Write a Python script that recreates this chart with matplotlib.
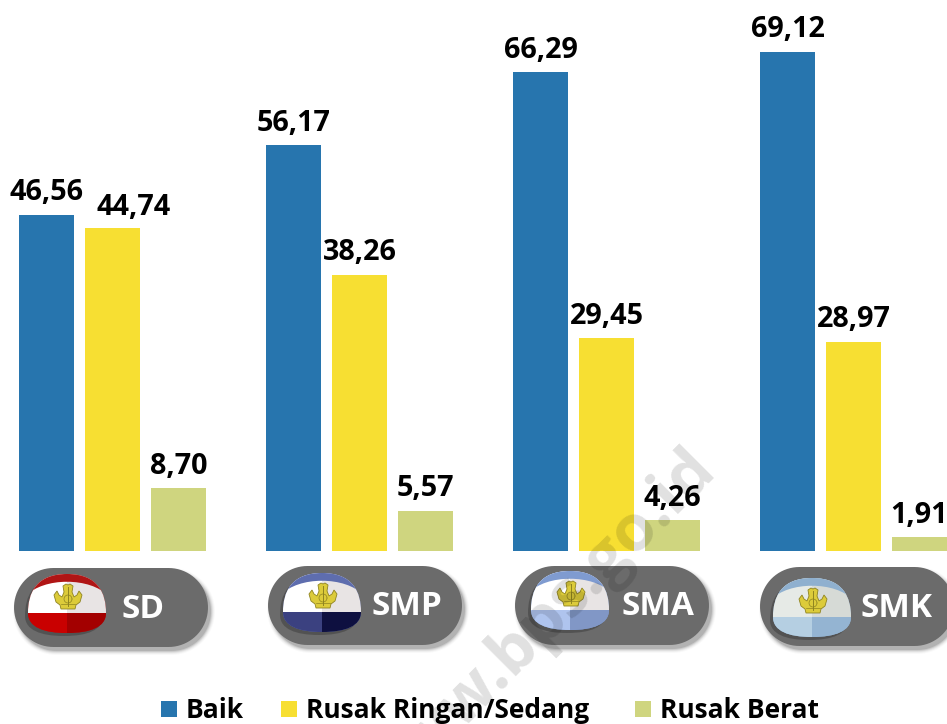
"""Kondisi ruang kelas per jenjang: grouped bars with badge pills under each group."""
import matplotlib
matplotlib.use("Agg")
import matplotlib.pyplot as plt
import numpy as np
from matplotlib.patches import PathPatch, Rectangle, Polygon
from matplotlib.path import Path

plt.rcParams["font.family"] = ["Open Sans", "DejaVu Sans"]

categories = ["SD", "SMP", "SMA", "SMK"]
series_names = ["Baik", "Rusak Ringan/Sedang", "Rusak Berat"]
baik = [46.56, 56.17, 66.29, 69.12]
ringan_sedang = [44.74, 38.26, 29.45, 28.97]
berat = [8.70, 5.57, 4.26, 1.91]
value_labels = [
    ["46,56", "56,17", "66,29", "69,12"],
    ["44,74", "38,26", "29,45", "28,97"],
    ["8,70", "5,57", "4,26", "1,91"],
]
colors = ["#2775AE", "#F7DF32", "#CFD57F"]

W, H = 947, 724
BASE_Y, PX_PER_UNIT = 551, 7.22
GROUP_PX, FIRST_PX = 247, 112.5

# (pill left, pill top, badge left, badge top, label x, label baseline y)
pills = {
    "SD": (14, 568, 28, 574, 143, 618),
    "SMP": (268, 566, 283, 573, 407, 615),
    "SMA": (515, 566, 531, 571, 658, 615),
    "SMK": (760, 567, 773, 578, 897, 617),
}
# band, lower left, lower right, upper left, upper right
badge_cols = {
    "SD": ("#B01515", "#C90000", "#A30000", "#FFFFFF", "#E8E4E4"),
    "SMP": ("#5E6DAE", "#3B4180", "#0E1040", "#FFFFFF", "#E8E4E4"),
    "SMA": ("#7F9BD0", "#AFC4EE", "#8197C6", "#FFFFFF", "#E8E4E4"),
    "SMK": ("#8FB0CF", "#B5CFE2", "#94B4D2", "#E6EAE6", "#D6DAD6"),
}


def pill_poly(x, y, w, h):
    r = h / 2
    t = np.linspace(-np.pi / 2, np.pi / 2, 40)
    right = np.c_[x + w - r + r * np.cos(t), y + r + r * np.sin(t)]
    left = np.c_[x + r - r * np.cos(t), y + r - r * np.sin(t)]
    return np.vstack([right, left])


def badge_path(x, y, w=78, h=59):
    verts = [
        (x, y + 0.66 * h),
        (x, y + 0.33 * h), (x + 0.10 * w, y), (x + 0.50 * w, y),
        (x + 0.90 * w, y), (x + w, y + 0.33 * h), (x + w, y + 0.66 * h),
        (x + w, y + 0.90 * h), (x + 0.80 * w, y + h), (x + 0.50 * w, y + h),
        (x + 0.20 * w, y + h), (x, y + 0.90 * h), (x, y + 0.66 * h),
    ]
    codes = [Path.MOVETO] + [Path.CURVE4] * 12
    return Path(verts, codes)


def draw_crest(ov, cx, cy, col="#DCCB3A", edge="#8F8420"):
    outline = np.array([
        (-14, -3), (-11, -7), (-9, -3), (-6, -1), (-4, -6), (-5, -12), (-2, -14), (0, -13), (2, -14),
        (5, -12), (4, -6), (6, -1), (9, -3), (11, -7), (14, -3), (12, 4), (8, 7), (7, 11),
        (-7, 11), (-8, 7), (-12, 4),
    ], dtype=float)
    ov.add_patch(Polygon(outline + (cx, cy), closed=True, fc=col, ec=edge, lw=0.6, zorder=7))
    ov.plot([cx, cx], [cy - 11, cy + 8], color=edge, lw=0.7, zorder=8)
    ov.plot([cx - 7, cx + 7], [cy + 6, cy + 6], color=edge, lw=0.5, zorder=8)
    t = np.linspace(0, 2 * np.pi, 24)
    ov.plot(cx + 4 * np.cos(t), cy + 1 + 4 * np.sin(t), color=edge, lw=0.5, zorder=8)


def draw_pill(ov, name):
    px, py, bx, by, tx, ty = pills[name]
    pw, ph = 194, 79
    # soft shadow, stacked
    for grow, a in [(4, 0.025), (3, 0.04), (2, 0.06), (1, 0.09), (0, 0.12)]:
        ov.add_patch(Polygon(pill_poly(px + 3 - grow, py + 4 - grow, pw + 2 * grow, ph + 2 * grow),
                             closed=True, fc="black", ec="none", alpha=a, zorder=3))
    ov.add_patch(Polygon(pill_poly(px, py, pw, ph), closed=True, fc="#6B6B6B", ec="none", zorder=4))
    # darker crescent under the badge
    ov.add_patch(PathPatch(badge_path(bx - 3, by + 3), fc="#3F3F3F", ec="none", alpha=0.55, zorder=4.5))

    band, low_l, low_r, up_l, up_r = badge_cols[name]
    clip = PathPatch(badge_path(bx, by), fc=band, ec="none", zorder=5)
    ov.add_patch(clip)
    mid = bx + 39
    pieces = [
        Rectangle((bx, by), 39, 39, fc=up_l, ec="none", zorder=5.2),
        Rectangle((mid, by), 39, 39, fc=up_r, ec="none", zorder=5.2),
        Rectangle((bx, by + 39), 39, 20, fc=low_l, ec="none", zorder=5.2),
        Rectangle((mid, by + 39), 39, 20, fc=low_r, ec="none", zorder=5.2),
    ]
    for p in pieces:
        ov.add_patch(p)
        p.set_clip_path(clip)
    # curved coloured band on top of the white part
    top = PathPatch(Path([(bx - 2, by + 22), (bx + 15, by + 3), (bx + 63, by + 3), (bx + 80, by + 22),
                          (bx + 80, by - 2), (bx - 2, by - 2), (bx - 2, by + 22)],
                         [Path.MOVETO, Path.CURVE4, Path.CURVE4, Path.CURVE4,
                          Path.LINETO, Path.LINETO, Path.CLOSEPOLY]),
                    fc=band, ec="none", zorder=5.4)
    ov.add_patch(top)
    top.set_clip_path(clip)
    draw_crest(ov, mid + 1, by + 24)
    ov.text(tx, ty, name, color="white", fontsize=24, fontweight="bold", ha="center", va="baseline", zorder=6)


fig = plt.figure(figsize=(W / 100, H / 100), dpi=100)
ax = fig.add_axes([0, 0, 1, 1])
x = np.arange(len(categories))
offset, width = 66 / GROUP_PX, 55 / GROUP_PX
for k, (vals, col) in enumerate(zip([baik, ringan_sedang, berat], colors)):
    pos = x + (k - 1) * offset
    ax.bar(pos, vals, width=width, color=col, label=series_names[k], zorder=2)
    for xx, v, lab in zip(pos, vals, value_labels[k]):
        # the 44,74 label sits right of its bar so it clears 46,56
        dx, dy = (15, 9) if lab == "44,74" else (0, 10.5)
        ax.annotate(lab, (xx, v), xytext=(dx, dy), textcoords="offset points", ha="center", va="baseline",
                    fontsize=20.7, fontweight="bold", color="black", zorder=3)
xl = -FIRST_PX / GROUP_PX
ax.set_xlim(xl, xl + W / GROUP_PX)
ax.set_ylim(-(H - BASE_Y) / PX_PER_UNIT, BASE_Y / PX_PER_UNIT)
ax.axis("off")

ov = fig.add_axes([0, 0, 1, 1])
ov.set_xlim(0, W)
ov.set_ylim(H, 0)
ov.axis("off")
ov.patch.set_alpha(0)

for name in categories:
    draw_pill(ov, name)

# legend, drawn by hand to sit on the reference positions
for sq_x, txt_x, name, col in zip([161, 281, 635], [186, 306, 660], series_names, colors):
    ov.add_patch(Rectangle((sq_x, 701), 16, 16, fc=col, ec="none", zorder=6))
    ov.text(txt_x, 718, name, fontsize=19, fontweight="bold", color="black", ha="left", va="baseline", zorder=6)

# watermark
ov.text(718, 473, "www.bps.go.id", fontsize=47, fontweight="bold", color="black", alpha=0.12,
        rotation=45, rotation_mode="anchor", ha="right", va="baseline", zorder=10)

fig.savefig("out.png", dpi=100)
plt.close(fig)
